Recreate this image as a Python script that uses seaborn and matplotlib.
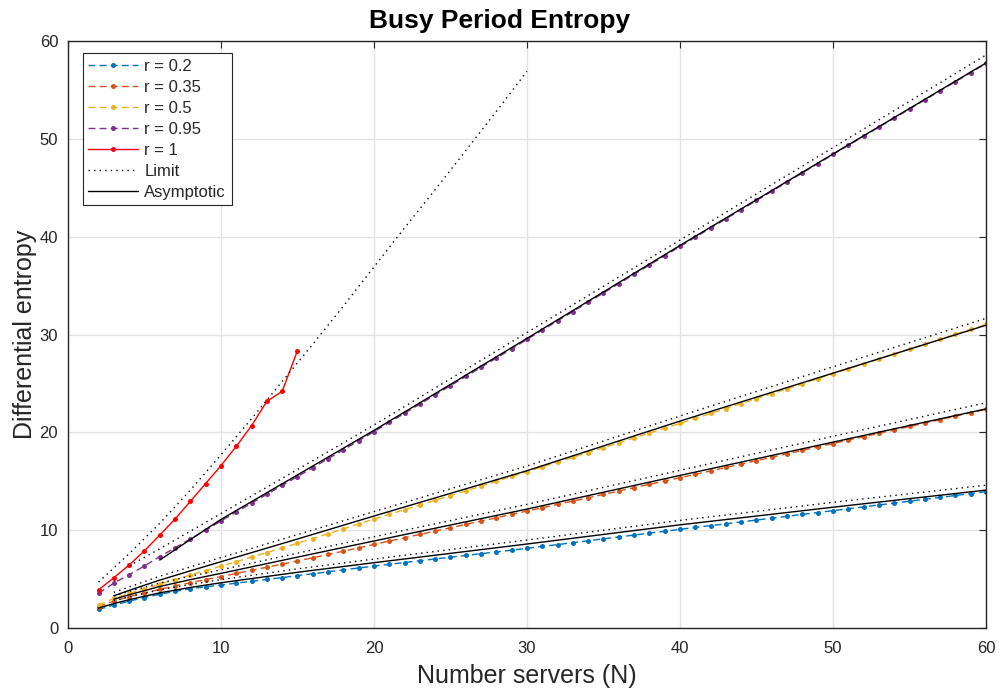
import numpy as np
import pandas as pd
import matplotlib
matplotlib.use("Agg")
import matplotlib.pyplot as plt
import seaborn as sns

# ---------------- data ----------------
n_full = list(range(2, 61))

ent_r020 = [1.90, 2.35, 2.75, 3.12, 3.45, 3.75, 4.02, 4.22, 4.40,
            4.59, 4.78, 4.97, 5.16, 5.36, 5.55, 5.75, 5.95, 6.14, 6.34,
            6.52, 6.70, 6.88, 7.06, 7.24, 7.42, 7.60, 7.78, 7.96, 8.15,
            8.34, 8.53, 8.73, 8.92, 9.12, 9.31, 9.50, 9.70, 9.89, 10.09,
            10.28, 10.47, 10.66, 10.85, 11.04, 11.23, 11.42, 11.62, 11.81, 12.00,
            12.19, 12.39, 12.58, 12.77, 12.97, 13.16, 13.35, 13.55, 13.74, 13.93]

ent_r035 = [2.20, 2.75, 3.20, 3.60, 3.95, 4.30, 4.63, 4.95, 5.26,
            5.58, 5.90, 6.22, 6.54, 6.86, 7.19, 7.52, 7.86, 8.20, 8.55,
            8.89, 9.23, 9.57, 9.91, 10.25, 10.59, 10.93, 11.27, 11.62, 11.96,
            12.30, 12.64, 12.98, 13.32, 13.66, 14.00, 14.35, 14.69, 15.03, 15.37,
            15.71, 16.06, 16.41, 16.76, 17.11, 17.46, 17.81, 18.16, 18.51, 18.86,
            19.21, 19.56, 19.90, 20.25, 20.60, 20.95, 21.30, 21.65, 22.00, 22.35]

ent_r050 = [2.35, 3.03, 3.54, 4.00, 4.48, 4.95, 5.42, 5.88, 6.33,
            6.79, 7.25, 7.72, 8.19, 8.67, 9.15, 9.64, 10.14, 10.64, 11.14,
            11.62, 12.10, 12.58, 13.06, 13.54, 14.02, 14.50, 15.00, 15.49, 15.98,
            16.47, 16.96, 17.45, 17.94, 18.43, 18.92, 19.42, 19.92, 20.42, 20.92,
            21.42, 21.93, 22.43, 22.94, 23.44, 23.95, 24.45, 24.96, 25.47, 25.98,
            26.49, 27.00, 27.50, 28.01, 28.52, 29.02, 29.52, 30.03, 30.53, 31.04]

ent_r095 = [3.55, 4.60, 5.45, 6.35, 7.30, 8.20, 9.10, 10.00, 10.95,
            11.85, 12.76, 13.67, 14.58, 15.48, 16.39, 17.30, 18.22, 19.14, 20.07,
            21.01, 21.95, 22.89, 23.83, 24.77, 25.71, 26.65, 27.59, 28.53, 29.50,
            30.45, 31.40, 32.35, 33.30, 34.25, 35.20, 36.15, 37.10, 38.05, 39.00,
            39.94, 40.88, 41.82, 42.76, 43.70, 44.64, 45.58, 46.52, 47.46, 48.40,
            49.33, 50.26, 51.19, 52.12, 53.05, 53.98, 54.91, 55.84, 56.77, 57.70]

n_r100 = list(range(2, 16))
ent_r100 = [3.90, 5.15, 6.44, 7.90, 9.50, 11.15, 12.95, 14.77, 16.60,
            18.57, 20.68, 23.17, 24.19, 28.35]

# asymptotic approximations
asy_n_020 = [2, 3, 4, 6, 8, 10, 15, 20, 30, 40, 50, 60]
asy_020 = [2.05, 2.50, 2.90, 3.60, 4.15, 4.63, 5.70, 6.68, 8.59, 10.55, 12.35, 14.10]
asy_n_035 = [3, 4, 6, 8, 10, 15, 20, 30, 40, 50, 60]
asy_035 = [2.95, 3.40, 4.25, 4.95, 5.59, 7.25, 8.90, 12.16, 15.60, 19.00, 22.40]
asy_n_050 = [3, 4, 6, 8, 10, 15, 20, 30, 40, 50, 60]
asy_050 = [3.30, 3.85, 4.90, 5.85, 6.78, 9.10, 11.45, 16.08, 21.15, 26.05, 30.95]
asy_n_095 = [6, 8, 10, 15, 20, 30, 40, 50, 60]
asy_095 = [6.95, 9.05, 11.10, 15.65, 20.20, 29.60, 39.10, 48.45, 57.75]

# limiting curves
lim_n_020 = [3, 4, 6, 8, 10, 15, 20, 30, 40, 50, 60]
lim_020 = [2.80, 3.20, 3.90, 4.45, 4.95, 6.05, 7.05, 9.00, 11.00, 12.85, 14.60]
lim_n_035 = [3, 4, 6, 8, 10, 15, 20, 30, 40, 50, 60]
lim_035 = [3.30, 3.75, 4.60, 5.30, 5.95, 7.65, 9.33, 12.64, 16.12, 19.60, 23.03]
lim_n_050 = [3, 4, 6, 8, 10, 15, 20, 30, 40, 50, 60]
lim_050 = [3.65, 4.20, 5.30, 6.25, 7.20, 9.55, 11.90, 16.56, 21.67, 26.70, 31.65]
lim_n_095 = [4, 6, 8, 10, 15, 20, 30, 40, 50, 60]
lim_095 = [6.35, 8.10, 9.90, 11.70, 16.20, 20.75, 30.20, 39.65, 49.10, 58.57]
lim_n_100 = [2, 4, 6, 8, 10, 12, 14, 16, 18, 20, 22, 24, 26, 28, 30]
lim_100 = [4.70, 7.60, 10.70, 14.10, 17.70, 21.40, 25.20, 29.00, 32.90, 36.90,
           40.90, 44.80, 48.80, 52.80, 56.90]

series_labels = ["r = 0.2", "r = 0.35", "r = 0.5", "r = 0.95", "r = 1"]
series_colors = ["#0072BD", "#D95319", "#EDB120", "#7E2F8E", "#FF0000"]

# ---------------- style ----------------
sns.set_theme(style="whitegrid")
plt.rcParams["font.family"] = ["Liberation Sans", "DejaVu Sans"]
plt.rcParams["axes.edgecolor"] = "#262626"
plt.rcParams["grid.color"] = "#e3e3e3"
plt.rcParams["grid.linewidth"] = 1.0

fig = plt.figure(figsize=(9.99, 6.94), dpi=100)
ax = fig.add_axes([0.068, 0.095, 0.919, 0.846])

dash = (0, (5, 3))
dot = (0, (1, 3))

data_sets = [
    (n_full, ent_r020),
    (n_full, ent_r035),
    (n_full, ent_r050),
    (n_full, ent_r095),
    (n_r100, ent_r100),
]
for (xs, ys), lab, col in zip(data_sets, series_labels, series_colors):
    ls = "-" if lab == "r = 1" else dash
    sns.lineplot(x=xs, y=ys, ax=ax, color=col, linestyle=ls, linewidth=1.0,
                 marker="o", markersize=3.6, markeredgewidth=0,
                 label=lab, sort=False)

limits = [(lim_n_020, lim_020), (lim_n_035, lim_035), (lim_n_050, lim_050),
          (lim_n_095, lim_095), (lim_n_100, lim_100)]
for i, (xs, ys) in enumerate(limits):
    sns.lineplot(x=xs, y=ys, ax=ax, color="black", linestyle=dot, linewidth=1.0,
                 label="Limit" if i == 0 else "_nolegend_", sort=False)

asymptotics = [(asy_n_020, asy_020), (asy_n_035, asy_035),
               (asy_n_050, asy_050), (asy_n_095, asy_095)]
for i, (xs, ys) in enumerate(asymptotics):
    sns.lineplot(x=xs, y=ys, ax=ax, color="black", linestyle="-", linewidth=1.0,
                 label="Asymptotic" if i == 0 else "_nolegend_", sort=False)

# ---------------- axes ----------------
ax.set_xlim(0, 60)
ax.set_ylim(0, 60)
ax.set_xticks(range(0, 61, 10))
ax.set_yticks(range(0, 61, 10))
ax.tick_params(direction="in", top=True, right=True, length=5, width=0.8,
               labelsize=12, colors="#262626")
ax.tick_params(axis="x", pad=9)
ax.tick_params(axis="y", pad=7)
for sp in ax.spines.values():
    sp.set_visible(True)
    sp.set_color("#262626")
    sp.set_linewidth(1.0)
ax.grid(True, color="#e3e3e3", linewidth=1.0)
ax.set_axisbelow(True)
ax.set_facecolor("white")

fig.text(0.5, 0.96, "Busy Period Entropy", fontsize=19, fontweight="bold",
         color="black", ha="center", va="baseline")
ax.set_xlabel("Number servers (N)", fontsize=18, color="#262626", labelpad=6)
ax.set_ylabel("Differential entropy", fontsize=18, color="#262626", labelpad=2)

leg = ax.legend(loc="upper left", bbox_to_anchor=(0.016, 0.98), borderaxespad=0,
                fontsize=12, frameon=True, fancybox=False, framealpha=1,
                edgecolor="#262626", handlelength=3.0, handletextpad=0.35,
                labelspacing=0.36, borderpad=0.35)
leg.get_frame().set_linewidth(0.8)

fig.savefig("out.png", dpi=100)
